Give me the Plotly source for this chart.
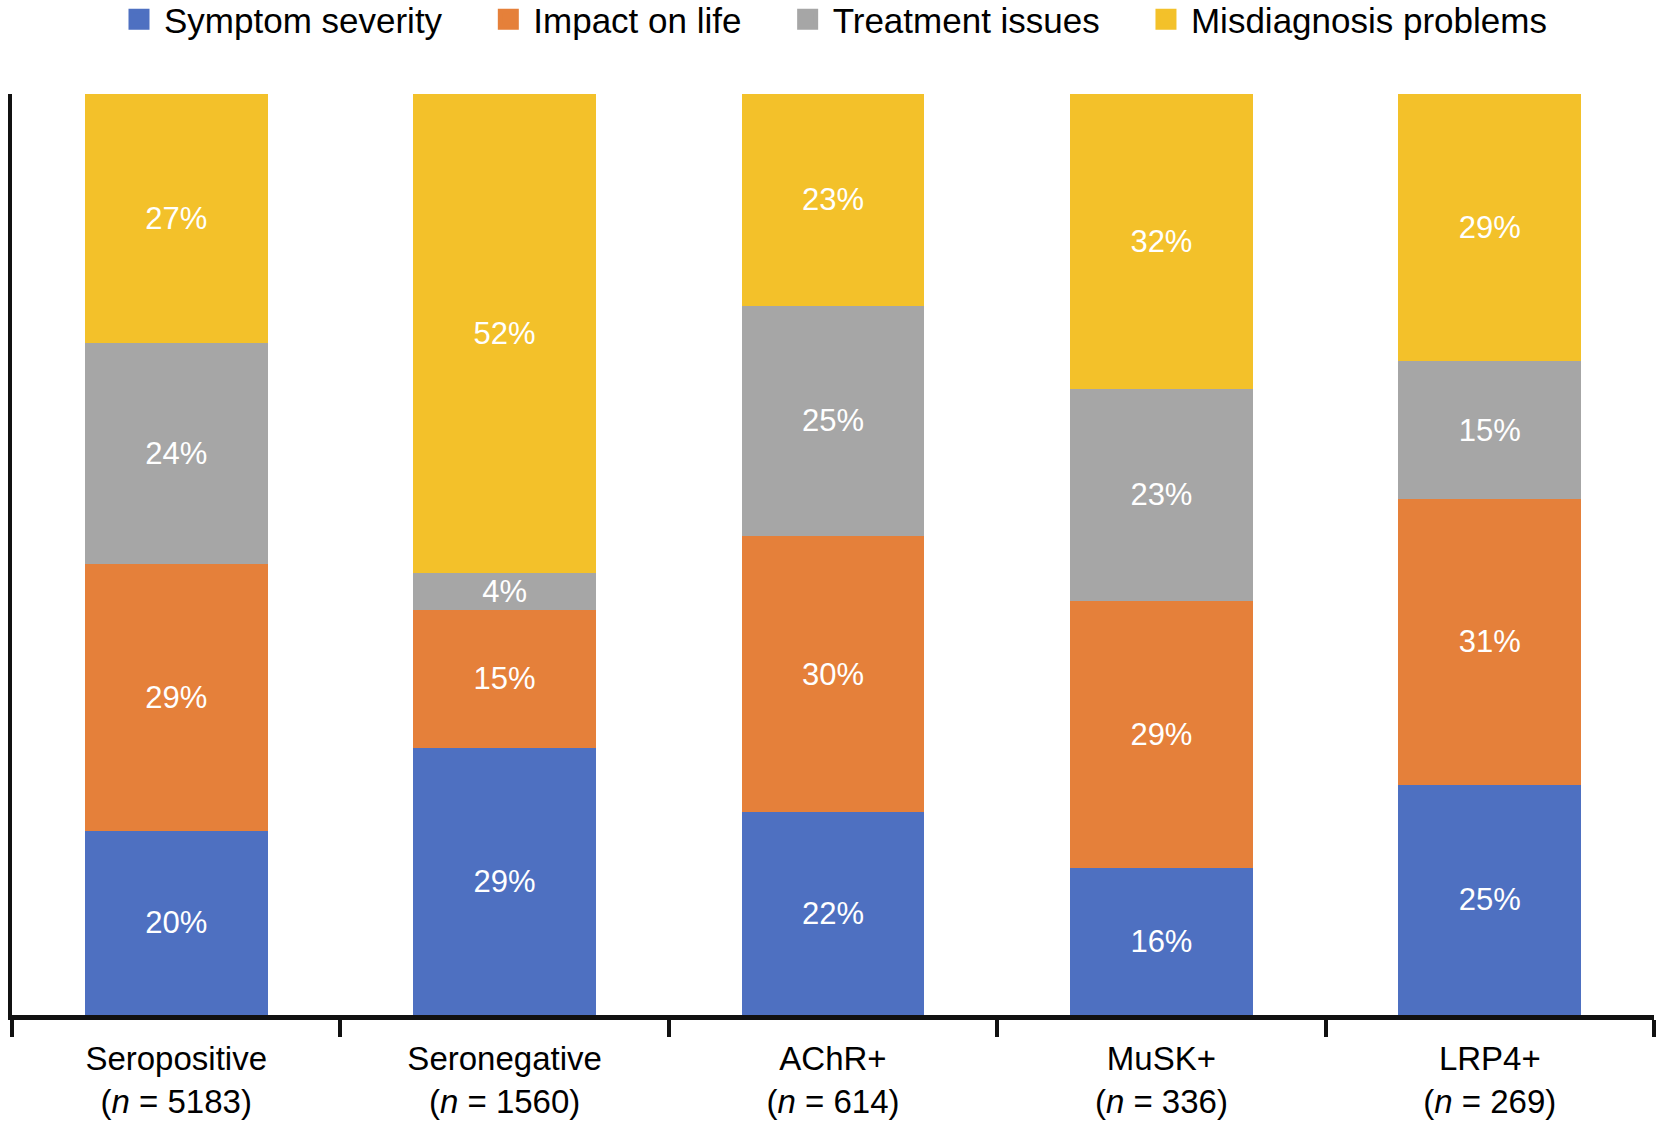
import plotly.graph_objects as go

# Data
groups = ['Seropositive', 'Seronegative', 'AChR+', 'MuSK+', 'LRP4+']
n_sizes = [5183, 1560, 614, 336, 269]
symptom_severity = [20, 29, 22, 16, 25]
impact_on_life = [29, 15, 30, 29, 31]
treatment_issues = [24, 4, 25, 23, 15]
misdiagnosis_problems = [27, 52, 23, 32, 29]

series_names = ['Symptom severity', 'Impact on life', 'Treatment issues', 'Misdiagnosis problems']
series_values = [symptom_severity, impact_on_life, treatment_issues, misdiagnosis_problems]
colors = ['#4E70C1', '#E5803A', '#A6A6A6', '#F3C12A']

tick_labels = [f'{g}<br>(<i>n</i> = {n})' for g, n in zip(groups, n_sizes)]

FONT = 'Liberation Sans, Arial, sans-serif'

fig = go.Figure()

for name, vals, col in zip(series_names, series_values, colors):
    fig.add_trace(go.Bar(x=tick_labels, y=vals, name=name, marker_color=col,
                         marker_line_width=0, showlegend=False,
                         text=[f'{v}%' for v in vals], textposition='inside',
                         insidetextanchor='middle',
                         textfont=dict(color='white', size=31, family=FONT)))

# legend entries (bigger squares than bar icons)
pad = '\u00a0' * 3 + '\u2009'
for i, (name, col) in enumerate(zip(series_names, colors)):
    label = name + (pad if i < len(series_names) - 1 else '')
    fig.add_trace(go.Scatter(x=[None], y=[None], mode='markers', name=label,
                             marker=dict(symbol='square', size=16, color=col,
                                         line=dict(color=col, width=5))))

fig.update_layout(
    width=1665, height=1131,
    barmode='stack', bargap=0.443,
    plot_bgcolor='white', paper_bgcolor='white',
    margin=dict(l=12, r=11, t=94, b=116, autoexpand=False),
    font=dict(family=FONT, color='black'),
    uniformtext=dict(minsize=31, mode='show'),
    legend=dict(orientation='h', x=0.5, xanchor='center', y=1.081, yanchor='middle',
                traceorder='normal', itemwidth=40,
                font=dict(size=35, color='black'), itemclick=False),
)
fig.update_xaxes(type='category', showline=True, linewidth=5, linecolor='#111111',
                 ticks='outside', tickson='boundaries', ticklen=17, tickwidth=4,
                 tickcolor='#111111', tickfont=dict(size=33, color='black'),
                 ticklabelstandoff=10, showgrid=False)
fig.update_yaxes(range=[0, 100], showline=True, linewidth=4, linecolor='#111111',
                 showticklabels=False, showgrid=False, zeroline=False, ticks='')

# drop the default body margin so the figure fills the window
fig.write_html('out.html', config={'displayModeBar': False},
               post_script="document.body.style.margin='0';")
